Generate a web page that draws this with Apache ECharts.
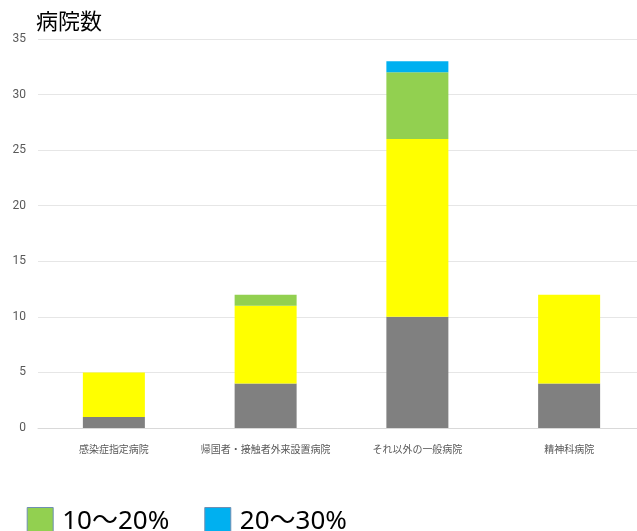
<!DOCTYPE html>
<html>
<head>
<meta charset="utf-8">
<script src="https://cdn.jsdelivr.net/npm/echarts@6/dist/echarts.min.js"></script>
<style>
  html, body { margin: 0; padding: 0; background: #fff; }
  #chart { width: 637px; height: 531px; }
</style>
</head>
<body>
<div id="chart"></div>
<script>
// Hospital categories along the x axis
const categories = ['感染症指定病院', '帰国者・接触者外来設置病院', 'それ以外の一般病院', '精神科病院'];

// Number of hospitals in each share band (stacked)
const band0 = [1, 4, 10, 4];
const band1 = [4, 7, 16, 8];
const band2 = [0, 1, 6, 0];
const band3 = [0, 0, 1, 0];

const seriesNames = ['0%', '0～10%', '10～20%', '20～30%'];
const seriesColors = ['#808080', '#ffff00', '#92d050', '#00b0f0'];

const yTicks = { min: 0, max: 35, interval: 5 };

const chart = echarts.init(document.getElementById('chart'), null, { renderer: 'canvas' });

const bands = [band0, band1, band2, band3];
const series = bands.map((vals, i) => ({
  name: seriesNames[i],
  type: 'bar',
  stack: 'total',
  data: vals,
  barWidth: 62,
  itemStyle: { color: seriesColors[i] },
  emphasis: { disabled: true }
}));

chart.setOption({
  animation: false,
  title: {
    text: '病院数',
    left: 31,
    top: 5,
    textStyle: { fontFamily: 'Noto Sans CJK JP', fontSize: 22, fontWeight: 'normal', color: '#000' }
  },
  legend: {
    left: -248,
    top: 502,
    itemWidth: 26,
    itemHeight: 28,
    itemGap: 35,
    icon: 'rect',
    itemStyle: { borderColor: '#6f8fb3', borderWidth: 1 },
    textStyle: { fontFamily: 'Noto Sans, Noto Sans CJK JP', fontSize: 26, color: '#000', padding: [0, 0, 0, 4] },
    data: seriesNames
  },
  grid: { left: 38, width: 607, top: 39, bottom: 103, containLabel: false, outerBoundsMode: 'none' },
  xAxis: {
    type: 'category',
    data: categories,
    axisLine: { lineStyle: { color: '#d9d9d9' } },
    axisTick: { show: false },
    axisLabel: { interval: 0, fontFamily: 'Noto Sans CJK JP', fontSize: 10, color: '#595959', margin: 16 }
  },
  yAxis: {
    type: 'value',
    min: yTicks.min,
    max: yTicks.max,
    interval: yTicks.interval,
    axisLine: { show: false },
    axisTick: { show: false },
    axisLabel: { fontFamily: 'Liberation Sans Narrow, Roboto', fontSize: 12, color: '#595959', margin: 12 },
    splitLine: { lineStyle: { color: '#e6e6e6' } }
  },
  series: series
});
</script>
</body>
</html>
